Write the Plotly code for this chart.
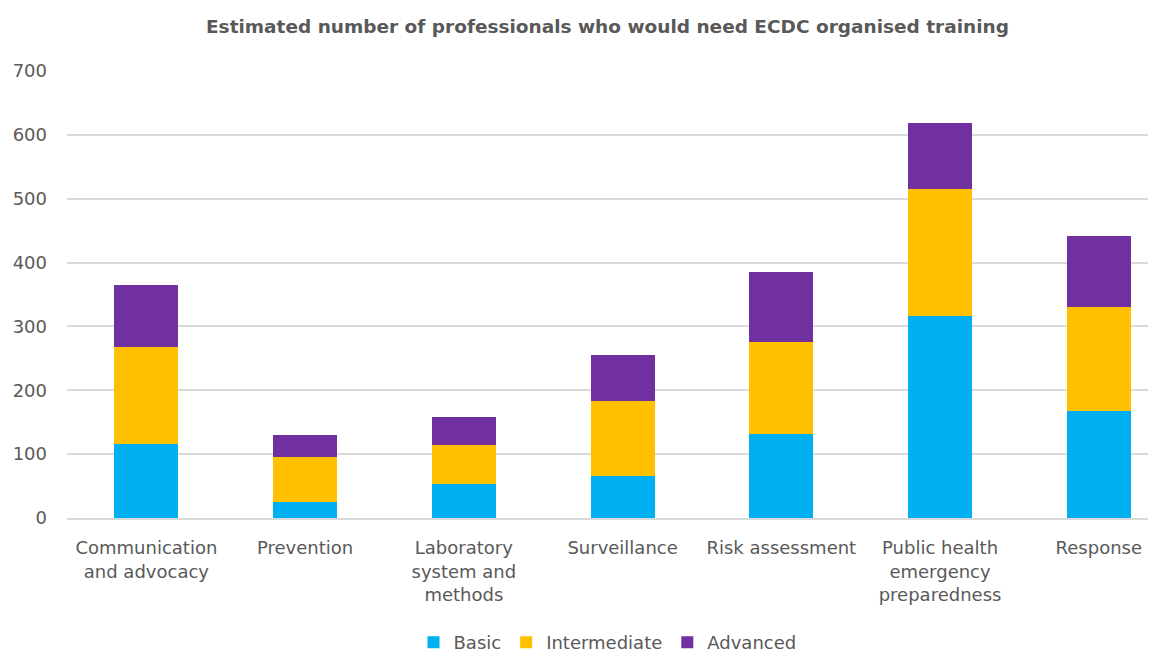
import plotly.graph_objects as go

categories = ["Communication<br>and advocacy", "Prevention", "Laboratory<br>system and<br>methods",
              "Surveillance", "Risk assessment", "Public health<br>emergency<br>preparedness", "Response"]
basic = [116, 25, 53, 66, 132, 317, 167]
intermediate = [152, 71, 62, 117, 143, 198, 164]
advanced = [97, 34, 43, 72, 110, 104, 111]
y_ticks = [0, 100, 200, 300, 400, 500, 600, 700]

colors = {"Basic": "#00B0F0", "Intermediate": "#FFC000", "Advanced": "#7030A0"}
font_fam = "DejaVu Sans, Verdana, sans-serif"
txt = "#595959"

fig = go.Figure()
for name, vals in [("Basic", basic), ("Intermediate", intermediate), ("Advanced", advanced)]:
    fig.add_trace(go.Bar(name=name, x=categories, y=vals, marker_color=colors[name],
                         marker_line_width=0))

fig.update_layout(
    barmode="stack",
    bargap=0.597,
    width=1163, height=657,
    margin=dict(l=67, r=15, t=71, b=139, autoexpand=False),
    paper_bgcolor="white", plot_bgcolor="white",
    font=dict(family=font_fam, color=txt, size=18),
    title=dict(text="<b>Estimated number of professionals who would need ECDC organised training</b>",
               x=0.5, xref="paper", y=0.96, yref="container", xanchor="center", yanchor="middle",
               font=dict(size=18.5, color=txt, family=font_fam)),
    legend=dict(orientation="h", x=0.5, xanchor="center", xref="paper", y=0.022, yref="container",
                yanchor="middle", font=dict(size=18, color=txt), traceorder="normal",
                itemwidth=30, tracegroupgap=0),
    yaxis=dict(range=[0, 700], tickvals=y_ticks, showgrid=True, gridcolor="#D9D9D9", gridwidth=1.5,
               zeroline=False, showline=False, ticks="", ticklabelstandoff=19, automargin=False,
               tickfont=dict(size=18, color=txt)),
    xaxis=dict(range=[-0.5, 6.31], showline=True, linecolor="#D9D9D9", linewidth=1.5, ticks="",
               ticklabelstandoff=13, automargin=False, tickfont=dict(size=18, color=txt)),
)

fig.write_html("out.html")
